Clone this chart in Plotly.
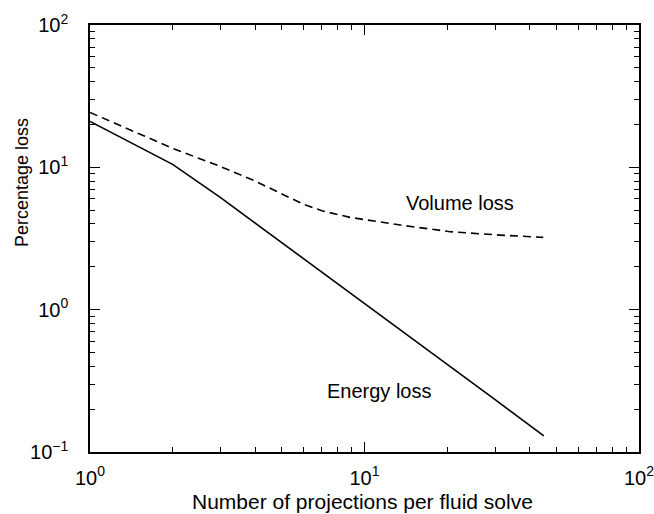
import plotly.graph_objects as go

energy_x = [1, 2, 3, 4, 5, 6, 8, 10, 15, 20, 30, 45]
energy_y = [21.0, 10.5, 6.1, 4.06, 2.95, 2.27, 1.51, 1.10, 0.62, 0.415, 0.232, 0.13]

volume_x = [1, 2, 3, 4, 5, 6, 7, 8.85, 13.5, 20.5, 31.2, 44.8]
volume_y = [24.3, 13.6, 10.1, 8.0, 6.5, 5.5, 4.95, 4.45, 3.93, 3.53, 3.34, 3.22]

x_tickvals = [1, 10, 100]
x_ticktext = ["10<sup>0</sup>", "10<sup>1</sup>", "10<sup>2</sup>"]
y_tickvals = [0.1, 1, 10, 100]
y_ticktext = ["10<sup>\u22121</sup>", "10<sup>0</sup>", "10<sup>1</sup>", "10<sup>2</sup>"]
x_minor = [2, 3, 4, 5, 6, 7, 8, 9, 20, 30, 40, 50, 60, 70, 80, 90]
y_minor = [0.2, 0.3, 0.4, 0.5, 0.6, 0.7, 0.8, 0.9,
           2, 3, 4, 5, 6, 7, 8, 9, 20, 30, 40, 50, 60, 70, 80, 90]

FONT = "Liberation Sans, Arial, Helvetica, sans-serif"

fig = go.Figure()
fig.add_trace(go.Scatter(x=energy_x, y=energy_y, mode="lines", name="Energy loss",
                         line=dict(color="black", width=1.6)))
fig.add_trace(go.Scatter(x=volume_x, y=volume_y, mode="lines", name="Volume loss",
                         line=dict(color="black", width=1.6, dash="8px,5px")))

axis_common = dict(
    showline=True, linecolor="black", linewidth=1.5, mirror="ticks",
    ticks="inside", ticklen=10, tickwidth=1, tickcolor="black",
    showgrid=False, zeroline=False, tickmode="array", automargin=False,
    ticklabeloverflow="allow",
    tickfont=dict(family=FONT, size=20, color="black"),
)

fig.update_xaxes(type="log", range=[0, 2], tickvals=x_tickvals, ticktext=x_ticktext,
                 ticklabelstandoff=7,
                 minor=dict(tickvals=x_minor, ticks="inside", ticklen=5, tickwidth=1,
                            tickcolor="black", showgrid=False),
                 **axis_common)
fig.update_yaxes(type="log", range=[-1, 2], tickvals=y_tickvals, ticktext=y_ticktext,
                 ticklabelstandoff=16,
                 minor=dict(tickvals=y_minor, ticks="inside", ticklen=5, tickwidth=1,
                            tickcolor="black", showgrid=False),
                 **axis_common)

fig.add_annotation(x=1.348, y=0.746, xref="x", yref="y", text="Volume loss",
                   showarrow=False, font=dict(family=FONT, size=20, color="black"))
fig.add_annotation(x=1.055, y=-0.574, xref="x", yref="y", text="Energy loss",
                   showarrow=False, font=dict(family=FONT, size=20, color="black"))
fig.add_annotation(x=0.497, y=-0.115, xref="paper", yref="paper",
                   text="Number of projections per fluid solve", showarrow=False,
                   xanchor="center", yanchor="middle",
                   font=dict(family=FONT, size=21, color="black"))
fig.add_annotation(x=-0.124, y=0.632, xref="paper", yref="paper",
                   text="Percentage loss", showarrow=False, textangle=-90,
                   xanchor="center", yanchor="middle",
                   font=dict(family=FONT, size=18, color="black"))

fig.update_layout(
    width=654, height=514,
    margin=dict(l=90, r=15, t=25, b=62),
    paper_bgcolor="white", plot_bgcolor="white",
    showlegend=False,
    font=dict(family=FONT, color="black"),
)

fig.write_html("out.html")
